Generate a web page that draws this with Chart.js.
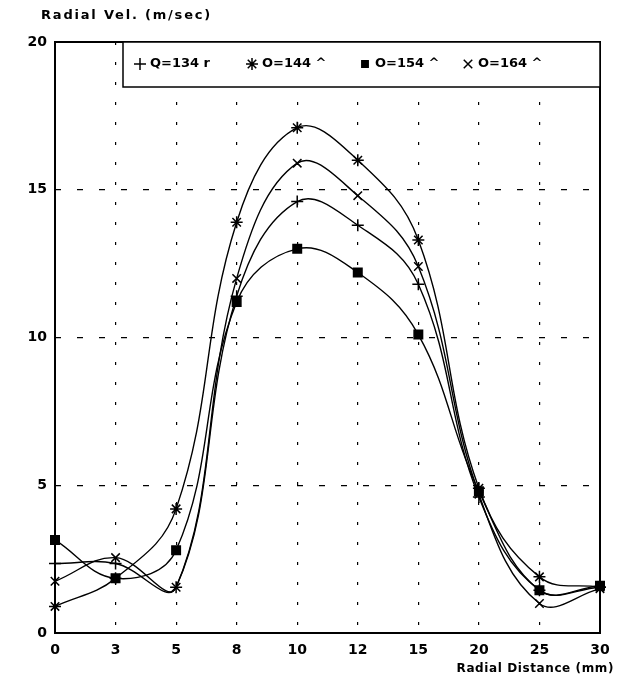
<!DOCTYPE html>
<html>
<head>
<meta charset="utf-8">
<script src="https://cdn.jsdelivr.net/npm/chart.js@4.4.1/dist/chart.umd.min.js"></script>
<style>
  body { margin: 0; background: #fff; }
  canvas { display: block; }
</style>
</head>
<body>
<canvas id="myChart" width="625" height="684"></canvas>
<script>
// radial distance (mm), equally spaced categories like in the original plot
var xLabels = ["0", "3", "5", "8", "10", "12", "15", "20", "25", "30"];

// radial velocity (m/sec) per flow rate
var q134 = [2.35, 2.35, 1.55, 11.4, 14.6, 13.8, 11.8, 4.6, 1.45, 1.55];
var q144 = [0.9, 1.85, 4.2, 13.9, 17.1, 16.0, 13.3, 4.9, 1.9, 1.55];
var q154 = [3.15, 1.85, 2.8, 11.2, 13.0, 12.2, 10.1, 4.8, 1.45, 1.6];
var q164 = [1.75, 2.55, 1.55, 12.0, 15.9, 14.8, 12.4, 4.7, 1.0, 1.5];

var seriesNames = ["Q=134 r", "O=144 ^", "O=154 ^", "O=164 ^"];
var yTicks = [0, 5, 10, 15, 20];

var FONT = "'DejaVu Sans', sans-serif";

// white page, solid frame, legend box, axis titles
var framePlugin = {
    id: 'frame',
    beforeDraw: function (chart) {
        var c = chart.ctx;
        c.save();
        c.fillStyle = '#fff';
        c.fillRect(0, 0, chart.width, chart.height);
        c.restore();
    },
    afterDraw: function (chart) {
        var c = chart.ctx;
        var a = chart.chartArea;
        c.save();
        c.strokeStyle = '#000';
        c.lineWidth = 2;
        c.strokeRect(a.left, a.top, a.right - a.left, a.bottom - a.top);

        // legend box
        var bx = 123, by = a.top, bh = 45;
        c.fillStyle = '#fff';
        c.fillRect(bx, by, a.right - bx, bh);
        c.lineWidth = 1.5;
        c.strokeRect(bx, by, a.right - bx, bh);

        var xs = [140, 252, 365, 468];
        var cy = by + 22;
        c.font = 'bold 13px ' + FONT;
        c.textBaseline = 'middle';
        chart.data.datasets.forEach(function (ds, i) {
            c.fillStyle = '#000';
            c.strokeStyle = '#000';
            c.lineWidth = 1.5;
            Chart.helpers.drawPoint(c, {
                pointStyle: ds.pointStyle,
                radius: ds.pointStyle === 'rect' ? 4.5 : 6,
                rotation: 0,
                borderWidth: 1.5
            }, xs[i], cy);
            c.fillText(ds.label, xs[i] + 10, cy);
        });

        c.fillStyle = '#000';
        c.font = 'bold 13px ' + FONT;
        c.textAlign = 'left';
        c.letterSpacing = '1.8px';
        c.fillText('Radial Vel. (m/sec)', 41, 16);
        c.font = 'bold 12px ' + FONT;
        c.letterSpacing = '0.6px';
        c.textAlign = 'right';
        c.fillText('Radial Distance (mm)', 614, 669);
        c.restore();
    }
};

function renderChart() {
    var ctx = document.getElementById("myChart").getContext('2d');
    var common = {
        borderColor: '#000',
        backgroundColor: '#000',
        borderWidth: 1.4,
        pointRadius: 6,
        pointBorderWidth: 1.5,
        tension: 0.4,
        fill: false
    };
    var myChart = new Chart(ctx, {
        type: 'line',
        data: {
            labels: xLabels,
            datasets: [
                Object.assign({ label: seriesNames[0], data: q134, pointStyle: 'cross' }, common),
                Object.assign({ label: seriesNames[1], data: q144, pointStyle: 'star' }, common),
                Object.assign({ label: seriesNames[2], data: q154, pointStyle: 'rect', pointRadius: 4.5 }, common),
                Object.assign({ label: seriesNames[3], data: q164, pointStyle: 'crossRot' }, common)
            ]
        },
        options: {
            responsive: false,
            animation: false,
            layout: { padding: { top: 42, right: 25, left: 0, bottom: 0 } },
            plugins: {
                tooltip: { enabled: false },
                legend: { display: false }
            },
            scales: {
                x: {
                    offset: false,
                    afterFit: function (s) { s.height = 51; },
                    grid: { color: '#000', lineWidth: 1.2, drawTicks: false },
                    border: { display: false, dash: [3, 17] },
                    ticks: {
                        color: '#000',
                        padding: 9,
                        maxRotation: 0,
                        font: { family: FONT, size: 14, weight: 'bold' }
                    }
                },
                y: {
                    min: 0,
                    max: 20,
                    afterFit: function (s) { s.width = 55; },
                    afterBuildTicks: function (s) {
                        s.ticks = yTicks.map(function (v) { return { value: v }; });
                    },
                    grid: { color: '#000', lineWidth: 1.2, drawTicks: false },
                    border: { display: false, dash: [6, 16] },
                    ticks: {
                        color: '#000',
                        padding: 8,
                        font: { family: FONT, size: 14, weight: 'bold' }
                    }
                }
            }
        },
        plugins: [framePlugin]
    });
    return myChart;
}

renderChart();
</script>
</body>
</html>
